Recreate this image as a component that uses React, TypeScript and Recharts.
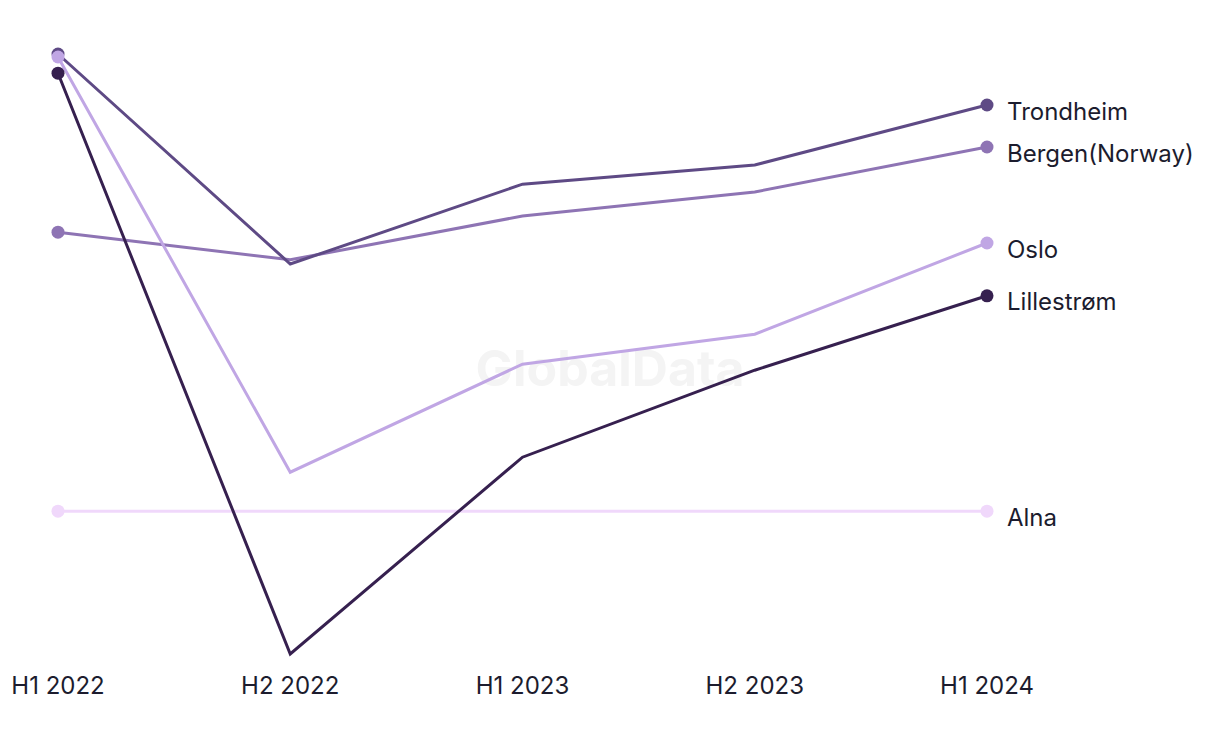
import React from 'react';
import { LineChart, Line, XAxis, YAxis } from 'recharts';

const periods = ['H1 2022', 'H2 2022', 'H1 2023', 'H2 2023', 'H1 2024'];

const trondheim = [100, 65, 78.3, 81.5, 91.5];
const bergen = [70.3, 65.7, 73, 77, 84.5];
const oslo = [99.5, 30.3, 48.3, 53.3, 68.5];
const lillestrom = [96.8, 0, 32.8, 47.3, 59.7];
const alna = [23.8, 23.8, 23.8, 23.8, 23.8];

const seriesList = [
  { key: 'Alna', values: alna, color: '#f0d8fb' },
  { key: 'Bergen(Norway)', values: bergen, color: '#8e74b4' },
  { key: 'Trondheim', values: trondheim, color: '#5e4a85' },
  { key: 'Oslo', values: oslo, color: '#c0a6e4' },
  { key: 'Lillestrøm', values: lillestrom, color: '#36204f' },
];

const chartData = periods.map((p, i) => {
  const row: Record<string, string | number> = { period: p };
  seriesList.forEach((s) => {
    row[s.key] = s.values[i];
  });
  return row;
});

const fontFamily = 'Inter, "Noto Sans", sans-serif';

const makeDot = (color: string) => (props: any) => {
  const { cx, cy, index } = props;
  if (index !== 0 && index !== periods.length - 1) return <g key={`d${index}`} />;
  return <circle key={`d${index}`} cx={cx} cy={cy} r={6.5} fill={color} stroke="none" />;
};

const makeLabel = (name: string) => (props: any) => {
  const { x, y, index } = props;
  if (index !== periods.length - 1) return <g key={`l${index}`} />;
  return (
    <text
      key={`l${index}`}
      x={x + 20}
      y={y + 6}
      fontSize={24}
      fill="#1c1c2e"
      fontFamily={fontFamily}
      dominantBaseline="central"
    >
      {name}
    </text>
  );
};

const App: React.FC = () => {
  return (
    <div style={{ position: 'absolute', left: 0, top: 0, width: 1220, height: 744, background: '#fff' }}>
      <div
        style={{
          position: 'absolute',
          left: 0,
          width: 1220,
          top: 338,
          textAlign: 'center',
          fontFamily,
          fontWeight: 700,
          fontSize: 50,
          color: '#f4f4f4',
        }}
      >
        GlobalData
      </div>
      <div style={{ position: 'absolute', left: 0, top: 0 }}>
        <LineChart
          width={1220}
          height={744}
          data={chartData}
          margin={{ top: 54, right: 233, bottom: 60, left: 58 }}
        >
          <XAxis
            dataKey="period"
            scale="point"
            padding={{ left: 0, right: 0 }}
            axisLine={false}
            tickLine={false}
            height={30}
            tick={{ fontSize: 24, fill: '#1c1c2e', fontFamily, dy: 15 }}
          />
          <YAxis hide domain={[0, 100]} />
          {seriesList.map((s) => (
            <Line
              key={s.key}
              dataKey={s.key}
              stroke={s.color}
              strokeWidth={3}
              type="linear"
              dot={makeDot(s.color)}
              activeDot={false}
              label={makeLabel(s.key)}
              isAnimationActive={false}
            />
          ))}
        </LineChart>
      </div>
    </div>
  );
};

export default App;
